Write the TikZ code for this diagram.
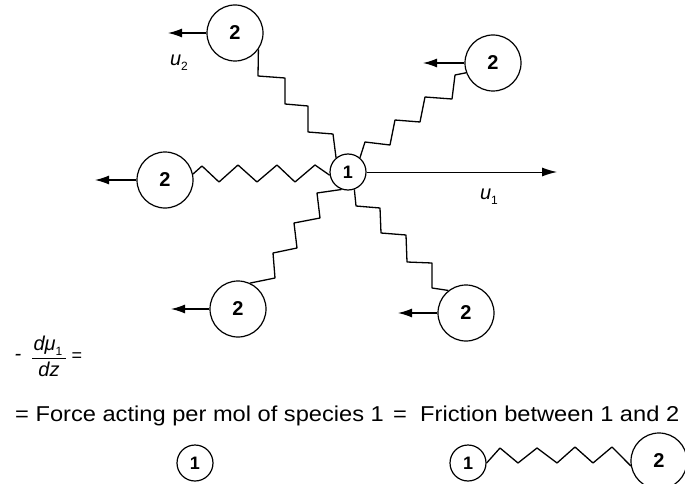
\documentclass[tikz,border=0pt]{standalone}
\usepackage{fontspec}
\setmainfont{Liberation Sans}
\usetikzlibrary{arrows.meta}
% small lowered index used in u_1, u_2 and mu_1
\newcommand\lowidx[1]{\raisebox{-0.45ex}{\fontsize{12}{12}\selectfont\upshape #1}}
\begin{document}
\begin{tikzpicture}[x=1pt,y=-1pt,
  mol/.style={circle,draw,line width=1.2pt,inner sep=0pt,font=\bfseries\fontsize{20}{20}\selectfont},
  big/.style={mol,minimum size=56pt},
  small/.style={mol,minimum size=36pt,font=\bfseries\fontsize{18}{18}\selectfont},
  spring/.style={line width=1.3pt,line join=round},
  pull/.style={line width=1.3pt,-{Latex[length=14pt,width=9pt]}},
  vel/.style={font=\itshape\fontsize{20}{20}\selectfont,inner sep=0pt},
  txt/.style={font=\fontsize{21.5}{21.5}\selectfont,inner sep=0pt,anchor=base west},
  frac/.style={font=\itshape\fontsize{20}{20}\selectfont,inner sep=0pt},
]
\useasboundingbox (0,0) rectangle (685,484);

% central molecule of species 1 and its neighbours of species 2
\node[small] (c) at (348,172) {1};
\node[big] (a) at (235,33) {2};
\node[big] (b) at (493,63) {2};
\node[big] (l) at (165,180) {2};
\node[big] (d) at (238,309) {2};
\node[big] (e) at (466,313) {2};

% velocity arrows
\coordinate (ta) at (168,33);
\coordinate (tb) at (423,63);
\coordinate (tl) at (95,180);
\coordinate (td) at (171,309);
\coordinate (te) at (398,313);
\coordinate (tc) at (557,172);
\draw[pull] (a) -- (ta);
\draw[pull] (b) -- (tb);
\draw[pull] (l) -- (tl);
\draw[pull] (d) -- (td);
\draw[pull] (e) -- (te);
\draw[line width=1pt,-{Latex[length=15pt,width=9pt]}] (c) -- (tc);

\node[vel] (u2) at (179,63) {u\lowidx{2}};
\node[vel] (u1) at (489,197) {u\lowidx{1}};

% friction springs
\draw[spring] (a.-35) -- (258,76) -- (285,78) -- (285,104) -- (308,106)
  -- (308,132) -- (333,134) -- (c.130);
\draw[spring] (c.50) -- (365,142) -- (390,145) -- (395,120) -- (420,122)
  -- (425,97) -- (452,99) -- (455,75) -- (b.200);
\draw[spring] (l.12) -- (202,166) -- (219,182) -- (238,165) -- (257,182)
  -- (277,165) -- (295,182) -- (315,165) -- (c.190);
\draw[spring] (d.65) -- (275,278) -- (273,253) -- (297,248) -- (294,223)
  -- (320,218) -- (317,193) -- (c.250);
\draw[spring] (c.-70) -- (356,206) -- (380,208) -- (381,233) -- (406,235)
  -- (407,262) -- (432,263) -- (432,288) -- (e.128);

% -d mu_1 / dz =
\node[frac] (minus) at (18,357) {-};
\node[frac] (num) at (48,346) {dμ\lowidx{1}};
\node[frac] (den) at (49,369) {dz};
\coordinate (barl) at (32,358);
\coordinate (barr) at (66,358);
\draw[line width=1pt] (barl) -- (barr);
\node[frac,font=\fontsize{18}{18}\selectfont] (eq0) at (77,357) {=};

% definition line
\node[txt] (force) at (15,421) {\scalebox{1.1}[1]{= Force acting per mol of species 1}};
\node[txt] (eq) at (393,421) {\scalebox{1.1}[1]{=}};
\node[txt] (fric) at (420,421) {\scalebox{1.1}[1]{Friction between 1 and 2}};

% legend symbols
\node[small] (s1) at (195,463) {1};
\node[small] (p1) at (468,463) {1};
\node[big] (p2) at (659,461) {2};
\draw[spring] (p1.east) -- (500,448) -- (518,463) -- (537,448) -- (557,463)
  -- (575,447) -- (593,463) -- (612,447) -- (p2.190);
\end{tikzpicture}
\end{document}
